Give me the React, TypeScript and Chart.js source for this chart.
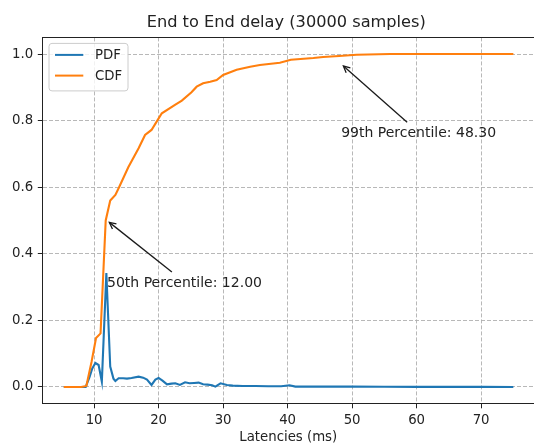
import { useEffect, useRef } from "react";
import { Chart, registerables } from "chart.js";

Chart.register(...registerables);

const TITLE = "End to End delay (30000 samples)";
const X_LABEL = "Latencies (ms)";

const pdfX = [5.3, 6.0, 7.0, 8.0, 8.7, 9.3, 9.7, 10.2, 10.7, 11.2, 11.9, 12.5, 13.0, 13.3, 13.8, 14.5, 15.1, 15.8, 16.9, 17.6, 18.2, 18.9, 19.5, 20.0, 20.6, 21.3, 22.0, 22.6, 23.3, 24.1, 24.8, 25.5, 26.2, 26.9, 27.6, 28.3, 28.8, 29.6, 30.6, 31.5, 33.0, 35.0, 37.0, 39.0, 40.3, 41.2, 45.0, 50.0, 55.0, 60.0, 65.0, 70.0, 75.0];
const pdfY = [0, 0, 0, 0, 0, 0.03, 0.055, 0.072, 0.066, 0.016, 0.342, 0.061, 0.025, 0.018, 0.026, 0.026, 0.025, 0.027, 0.031, 0.028, 0.022, 0.006, 0.022, 0.027, 0.019, 0.008, 0.01, 0.011, 0.006, 0.014, 0.011, 0.012, 0.013, 0.008, 0.007, 0.005, 0.001, 0.011, 0.006, 0.004, 0.003, 0.003, 0.002, 0.002, 0.005, 0.001, 0.001, 0.001, 0.0005, 0.0003, 0.0002, 0.0001, 0];

const cdfX = [5.3, 8.0, 8.8, 9.6, 10.3, 11.0, 11.8, 12.5, 13.3, 13.8, 15.3, 16.9, 17.9, 18.9, 19.7, 20.5, 22.6, 23.6, 25.1, 25.9, 26.9, 28.0, 29.0, 30.0, 32.1, 34.2, 35.7, 38.8, 40.5, 44.0, 45.5, 48.0, 50.7, 55.9, 60.0, 65.0, 70.0, 75.0];
const cdfY = [0, 0, 0.003, 0.075, 0.147, 0.161, 0.5, 0.56, 0.577, 0.597, 0.66, 0.717, 0.757, 0.772, 0.797, 0.822, 0.848, 0.86, 0.885, 0.902, 0.912, 0.917, 0.922, 0.937, 0.953, 0.962, 0.967, 0.974, 0.983, 0.988, 0.991, 0.994, 0.998, 1.0, 1.0, 1.0, 1.0, 1.0];

const xTicks = [10, 20, 30, 40, 50, 60, 70];
const yTicks = [0, 0.2, 0.4, 0.6, 0.8, 1.0];

const annotations = [
  { label: "50th Percentile: 12.00", x: 12.0, y: 0.5, textX: 12.0, textY: 0.3 },
  { label: "99th Percentile: 48.30", x: 48.3, y: 0.97, textX: 48.3, textY: 0.75 },
];

const FONT = "'DejaVu Sans', sans-serif";
const TEXT_COLOR = "#222222";
const FS = 13.3;
const ANN_FS = 14;

const decorPlugin = {
  id: "decor",
  afterDatasetsDraw(chart: any) {
    const { ctx, scales } = chart;
    ctx.save();
    ctx.font = `${ANN_FS}px ${FONT}`;
    ctx.fillStyle = TEXT_COLOR;
    ctx.textAlign = "left";
    ctx.textBaseline = "alphabetic";
    for (const a of annotations) {
      const px = scales.x.getPixelForValue(a.x);
      const py = scales.y.getPixelForValue(a.y);
      const tx = scales.x.getPixelForValue(a.textX);
      const ty = scales.y.getPixelForValue(a.textY);
      ctx.fillText(a.label, tx, ty);
      const w = ctx.measureText(a.label).width;
      const top = ty - ANN_FS * 0.95;
      const bottom = ty + ANN_FS * 0.24;
      const cx = tx + w / 2;
      const cy = (top + bottom) / 2;
      const dx = px - cx;
      const dy = py - cy;
      const len = Math.hypot(dx, dy);
      const ux = dx / len;
      const uy = dy / len;
      const tX = Math.abs(dx) > 0 ? (w / 2) / Math.abs(dx) : Infinity;
      const tY = Math.abs(dy) > 0 ? ((bottom - top) / 2) / Math.abs(dy) : Infinity;
      const t = Math.min(tX, tY);
      const sx = cx + dx * t + ux * 2.7;
      const sy = cy + dy * t + uy * 2.7;
      const hx = px - ux * 3;
      const hy = py - uy * 3;
      ctx.strokeStyle = "#1a1a1a";
      ctx.lineWidth = 1.3;
      ctx.beginPath();
      ctx.moveTo(sx, sy);
      ctx.lineTo(hx, hy);
      ctx.stroke();
      const L = 6.5;
      const W = 3.2;
      const bx = hx - ux * L;
      const by = hy - uy * L;
      ctx.beginPath();
      ctx.moveTo(bx - uy * W, by + ux * W);
      ctx.lineTo(hx, hy);
      ctx.lineTo(bx + uy * W, by - ux * W);
      ctx.stroke();
    }
    ctx.restore();
  },
  afterDraw(chart: any) {
    const { ctx, chartArea } = chart;
    ctx.save();
    ctx.strokeStyle = "#222222";
    ctx.lineWidth = 1;
    ctx.beginPath();
    ctx.moveTo(chartArea.left, Math.round(chartArea.top) + 0.5);
    ctx.lineTo(chartArea.right, Math.round(chartArea.top) + 0.5);
    ctx.stroke();
    ctx.font = `16.2px ${FONT}`;
    ctx.fillStyle = TEXT_COLOR;
    ctx.textAlign = "center";
    ctx.textBaseline = "alphabetic";
    ctx.fillText(TITLE, (chartArea.left + chartArea.right) / 2 - 2, chartArea.top - 10);
    const lx = chartArea.left + 6.5;
    const ly = chartArea.top + 6;
    const lw = 79;
    const lh = 47.5;
    ctx.beginPath();
    (ctx as any).roundRect(lx, ly, lw, lh, 3);
    ctx.fillStyle = "rgba(255,255,255,0.8)";
    ctx.fill();
    ctx.strokeStyle = "#cccccc";
    ctx.lineWidth = 1;
    ctx.stroke();
    ctx.font = `${FS}px ${FONT}`;
    ctx.textAlign = "left";
    ctx.textBaseline = "middle";
    chart.data.datasets.forEach((ds: any, i: number) => {
      const yy = ly + 11.5 + i * 20.7;
      ctx.strokeStyle = ds.borderColor;
      ctx.lineWidth = 2;
      ctx.beginPath();
      ctx.moveTo(lx + 6, yy);
      ctx.lineTo(lx + 34.3, yy);
      ctx.stroke();
      ctx.fillStyle = TEXT_COLOR;
      ctx.fillText(ds.label, lx + 46, yy + 0.5);
    });
    ctx.restore();
  },
};

export default function App() {
  const ref = useRef<HTMLCanvasElement | null>(null);
  useEffect(() => {
    if (!ref.current) return;
    const chart = new Chart(ref.current, {
      type: "line",
      data: {
        datasets: [
          {
            label: "PDF",
            data: pdfX.map((x, i) => ({ x, y: pdfY[i] })),
            borderColor: "#1f77b4",
            backgroundColor: "#1f77b4",
            borderWidth: 2.1,
            pointRadius: 0,
            tension: 0,
            order: 1,
          },
          {
            label: "CDF",
            data: cdfX.map((x, i) => ({ x, y: cdfY[i] })),
            borderColor: "#ff7f0e",
            backgroundColor: "#ff7f0e",
            borderWidth: 2.1,
            pointRadius: 0,
            tension: 0,
            order: 0,
          },
        ],
      },
      options: {
        responsive: false,
        animation: false,
        devicePixelRatio: 1,
        layout: { padding: { top: 37.4, left: 0, right: 0, bottom: 0 } },
        plugins: {
          legend: { display: false },
          title: { display: false },
          tooltip: { enabled: false },
        },
        scales: {
          x: {
            type: "linear",
            min: 2.0,
            max: 78.2,
            afterBuildTicks: (scale: any) => {
              scale.ticks = xTicks.map((v) => ({ value: v }));
            },
            afterFit: (scale: any) => {
              scale.height = 42.4;
            },
            ticks: {
              font: { family: FONT, size: FS },
              color: TEXT_COLOR,
              padding: 4.7,
              maxRotation: 0,
              autoSkip: false,
              callback: (v: any) => String(v),
            },
            grid: {
              color: "#b0b0b0",
              lineWidth: 0.9,
              tickLength: 4.7,
              tickColor: "#222222",
              tickWidth: 1,
            },
            border: { display: true, color: "#222222", width: 1, dash: [4, 2] },
            title: {
              display: true,
              text: X_LABEL,
              font: { family: FONT, size: FS },
              color: TEXT_COLOR,
              padding: { top: 0, bottom: 0 },
            },
          },
          y: {
            type: "linear",
            min: -0.05,
            max: 1.05,
            afterBuildTicks: (scale: any) => {
              scale.ticks = yTicks.map((v) => ({ value: v }));
            },
            afterFit: (scale: any) => {
              scale.width = 42.5;
            },
            ticks: {
              font: { family: FONT, size: FS },
              color: TEXT_COLOR,
              padding: 4.7,
              autoSkip: false,
              callback: (v: any) => Number(v).toFixed(1),
            },
            grid: {
              color: "#b0b0b0",
              lineWidth: 0.9,
              tickLength: 4.7,
              tickColor: "#222222",
              tickWidth: 1,
            },
            border: { display: true, color: "#222222", width: 1, dash: [4, 2] },
          },
        },
      },
      plugins: [decorPlugin],
    } as any);
    return () => chart.destroy();
  }, []);
  return (
    <div style={{ position: "fixed", left: 0, top: 0, width: 534, height: 446, background: "#ffffff" }}>
      <canvas ref={ref} width={534} height={446} style={{ display: "block" }} />
    </div>
  );
}
